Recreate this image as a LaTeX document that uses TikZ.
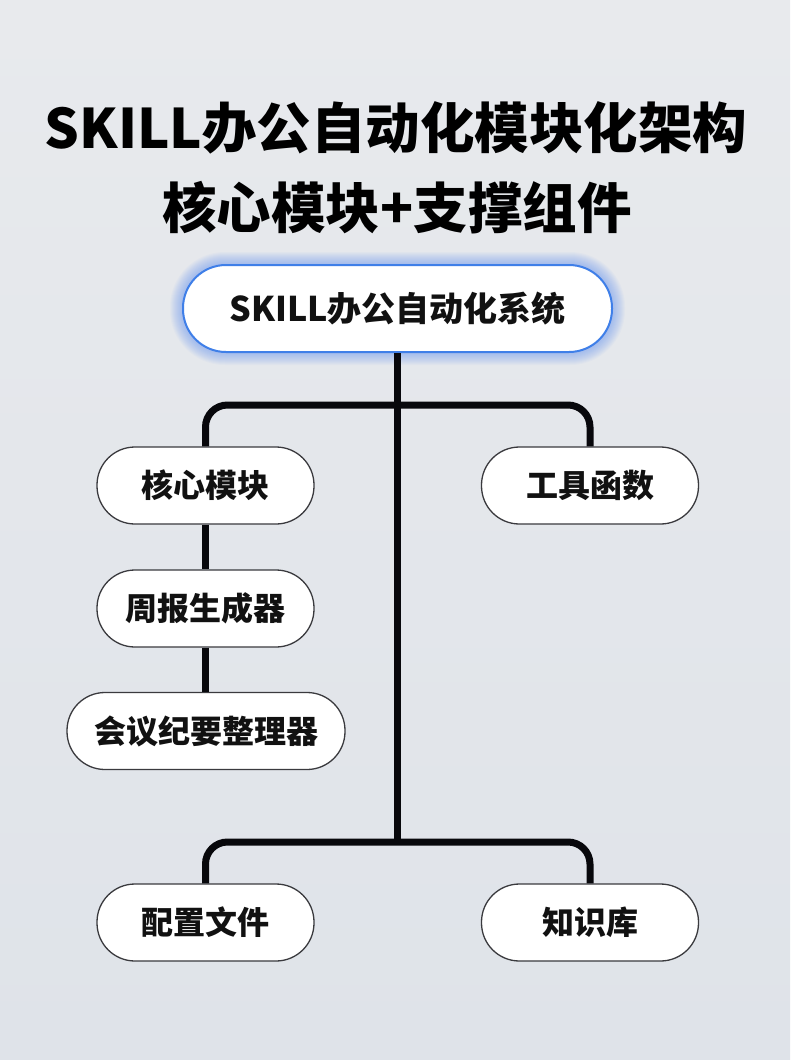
\documentclass[tikz,border=0pt]{standalone}
\usepackage{fontspec}
\setmainfont{Noto Sans CJK SC}
\usetikzlibrary{calc}
\definecolor{bgtop}{HTML}{E8EAED}
\definecolor{bgmid}{HTML}{F4F5F7}
\definecolor{bgbot}{HTML}{DFE3E9}
\definecolor{linec}{HTML}{08080C}
\definecolor{boxline}{HTML}{3A3A3E}
\definecolor{textc}{HTML}{111111}
\definecolor{bluec}{HTML}{3F7FE8}
\definecolor{glowc}{HTML}{5A8EF0}
\pgfdeclarelayer{bg}
\pgfdeclarelayer{glow}
\pgfsetlayers{bg,glow,main}
\begin{document}
\begin{tikzpicture}[x=1pt,y=-1pt,
  title/.style={font=\bfseries\fontsize{54.5}{60}\selectfont, text=black, inner sep=0pt},
  box/.style={draw=boxline, line width=1.3pt, fill=white, rounded corners=38pt,
    minimum width=217pt, minimum height=77pt, inner sep=0pt,
    font=\bfseries\fontsize{32}{36}\selectfont, text=textc},
  topbox/.style={draw=bluec, line width=2pt, fill=white, rounded corners=43pt,
    minimum width=429pt, minimum height=87pt, inner sep=0pt,
    font=\bfseries\fontsize{34}{40}\selectfont, text=textc},
  conn/.style={line width=7pt, draw=linec, rounded corners=22pt, line cap=butt}]
\begin{pgfonlayer}{bg}
\path[use as bounding box] (0,0) rectangle (790,1060);
\shade[top color=bgtop, middle color=bgmid, bottom color=bgbot] (0,0) rectangle (790,1060);
\end{pgfonlayer}

\node[title] (t1) at (396,128) {SKILL办公自动化模块化架构};
\node[title] (t2) at (397,208) {核心模块+支撑组件};

\node[topbox] (sys) at (397.5,308.5) {SKILL办公自动化系统};
\begin{pgfonlayer}{glow}
\foreach \w in {2,4,...,24}{
  \draw[draw=glowc, line width=\w pt, opacity=0.045, rounded corners=43pt, yshift=-5pt]
    (sys.south west) rectangle (sys.north east);
}
\end{pgfonlayer}

\node[box] (hexin) at (205.5,485.5) {核心模块};
\node[box] (tool) at (590,485.5) {工具函数};
\node[box] (zhoubao) at (205.5,608.5) {周报生成器};
\node[box, minimum width=278pt] (huiyi) at (206,731) {会议纪要整理器};
\node[box] (peizhi) at (205.5,922.5) {配置文件};
\node[box] (zhishi) at (590,922.5) {知识库};

\coordinate (b1) at (397.5,405);
\coordinate (b2) at (397.5,842);
\draw[conn] (sys.south) -- (b2);
\draw[conn] (hexin.north) -- (hexin.north |- b1) -- (tool.north |- b1) -- (tool.north);
\draw[conn] (peizhi.north) -- (peizhi.north |- b2) -- (zhishi.north |- b2) -- (zhishi.north);
\draw[conn] (hexin.south) -- (zhoubao.north);
\draw[conn] (zhoubao.south) -- (hexin.south |- huiyi.north);
\end{tikzpicture}
\end{document}
